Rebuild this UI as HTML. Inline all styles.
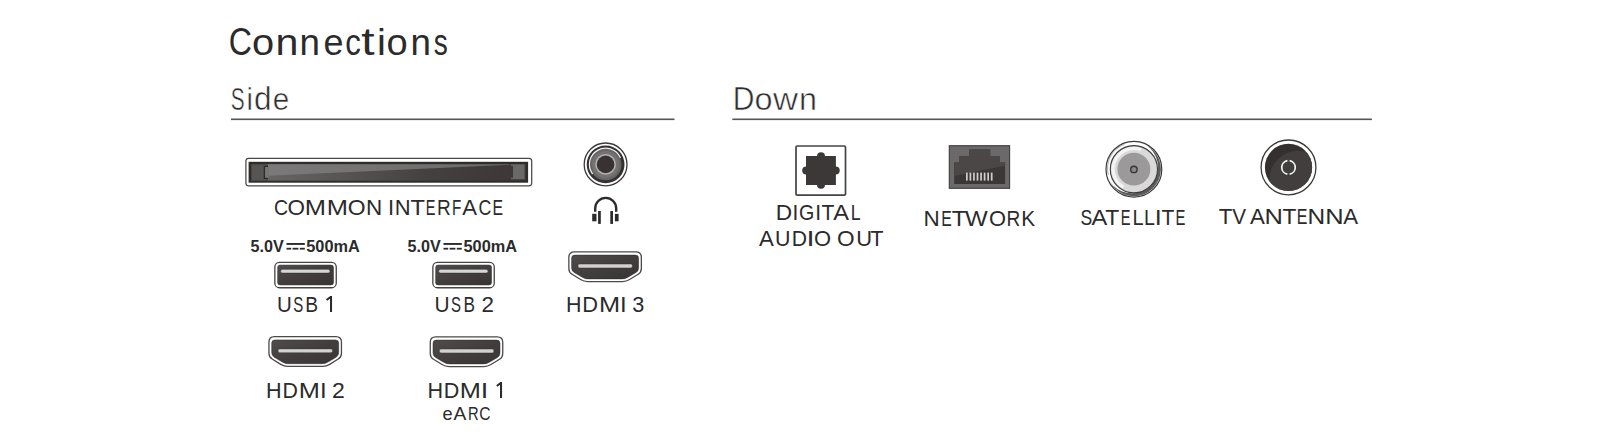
<!DOCTYPE html>
<html><head><meta charset="utf-8"><title>Connections</title>
<style>
html,body{margin:0;padding:0;background:#fff;}
body{width:1600px;height:442px;overflow:hidden;}
svg{display:block;}
text{font-family:"Liberation Sans",sans-serif;}
</style></head><body>
<svg width="1600" height="442" viewBox="0 0 1600 442">
<rect width="1600" height="442" fill="#fff"/>
<defs>
<linearGradient id="ciDark" x1="0" y1="0" x2="1" y2="0">
 <stop offset="0" stop-color="#6a6868"/><stop offset="0.3" stop-color="#5a5656"/><stop offset="0.65" stop-color="#454040"/><stop offset="1" stop-color="#3c3636"/>
</linearGradient>
<linearGradient id="ciLight" x1="0" y1="0" x2="1" y2="0">
 <stop offset="0" stop-color="#7b7979"/><stop offset="1" stop-color="#6b6969"/>
</linearGradient>
<linearGradient id="usbG" x1="0" y1="0" x2="1" y2="1">
 <stop offset="0" stop-color="#514c4c"/><stop offset="0.5" stop-color="#433e3e"/><stop offset="1" stop-color="#3a3535"/>
</linearGradient>
<linearGradient id="rjG" x1="0" y1="0" x2="1" y2="1">
 <stop offset="0" stop-color="#4e4a4a"/><stop offset="0.55" stop-color="#433f3f"/><stop offset="0.56" stop-color="#3d3838"/><stop offset="1" stop-color="#3a3535"/>
</linearGradient>
<radialGradient id="tvG" cx="0.62" cy="0.62" r="0.5">
 <stop offset="0" stop-color="#4a4545"/><stop offset="0.7" stop-color="#474242"/><stop offset="1" stop-color="#3c3636"/>
</radialGradient>
</defs>
<rect x="330" y="296" width="2.05" height="16" fill="#2b2b2b"/>
<path d="M330.90 296.90 L326.50 300.00" stroke="#2b2b2b" stroke-width="2.0" fill="none"/>
<rect x="500" y="382" width="2.05" height="16" fill="#2b2b2b"/>
<path d="M500.90 382.90 L496.80 386.00" stroke="#2b2b2b" stroke-width="2.0" fill="none"/>
<rect x="231" y="118.5" width="443.5" height="1.6" fill="#555"/>
<rect x="732.3" y="118.5" width="639.6" height="1.6" fill="#555"/>
<rect x="286.5" y="243" width="18.3" height="1.9" fill="#2b2b2b"/>
<rect x="286.5" y="247.8" width="4.7" height="1.8" fill="#2b2b2b"/>
<rect x="292.6" y="247.8" width="5.800000000000001" height="1.8" fill="#2b2b2b"/>
<rect x="299.8" y="247.8" width="5.0" height="1.8" fill="#2b2b2b"/>
<rect x="443.5" y="243" width="18.3" height="1.9" fill="#2b2b2b"/>
<rect x="443.5" y="247.8" width="4.7" height="1.8" fill="#2b2b2b"/>
<rect x="449.6" y="247.8" width="5.800000000000001" height="1.8" fill="#2b2b2b"/>
<rect x="456.8" y="247.8" width="5.0" height="1.8" fill="#2b2b2b"/>
<rect x="245.9" y="158.3" width="285.8" height="27.6" rx="2.8" fill="#fff" stroke="#484848" stroke-width="1.25"/>
<rect x="248.6" y="161.8" width="279.5" height="20.9" fill="#302c2c"/>
<rect x="251" y="164.2" width="275" height="16.5" fill="url(#ciDark)"/>
<path d="M264 164.2 H511 V164.6 L268 175.8 V178.4 H264Z" fill="url(#ciLight)"/>
<rect x="251" y="164.2" width="17" height="16.5" fill="#4a4646"/>
<rect x="252" y="165.2" width="15" height="14.5" fill="#575454"/>
<path d="M268 166.4 H264.4 V178.4 H268" fill="#777575" stroke="#2f2b2b" stroke-width="1.3"/>
<rect x="267.6" y="167" width="1.2" height="11" fill="#777575"/>
<path d="M510.9 164.3 H524.6 V179.2 H510.9 V177.8 H513 V165.7 H510.9Z" fill="#6a6868"/>
<circle cx="605.6" cy="164.4" r="21.4" fill="#fff" stroke="#3a3a3a" stroke-width="1.3"/>
<circle cx="605.6" cy="164.4" r="18.9" fill="#353131"/>
<circle cx="605.6" cy="164.4" r="15.9" fill="#676565"/>
<circle cx="605.6" cy="164.4" r="13.5" fill="#747272"/>
<circle cx="605.6" cy="164.4" r="10.4" fill="#b2b0b0"/>
<circle cx="605.6" cy="164.4" r="8.8" fill="#383232"/>
<path d="M592.33 173.69 A16.2 16.2 0 1 1 620.28 157.55" fill="none" stroke="#f0f0f0" stroke-width="1.2" stroke-linecap="round"/>
<path d="M595.2 211.8 V208.4 A10.5 10.5 0 0 1 616.2 208.4 V211.8" fill="none" stroke="#2b2b2b" stroke-width="2.4"/>
<rect x="592.2" y="213.8" width="4.3" height="7.5" fill="#2b2b2b"/>
<rect x="598.1" y="211" width="2.7" height="12.9" fill="#2b2b2b"/>
<rect x="610.3" y="211" width="2.7" height="12.9" fill="#2b2b2b"/>
<rect x="614.9" y="213.9" width="3.7" height="7.4" fill="#2b2b2b"/>
<rect x="274.84999999999997" y="262.35" width="61.4" height="25.4" rx="4.6" fill="#fff" stroke="#444" stroke-width="1.3"/>
<rect x="277.3" y="264.8" width="56.5" height="20.5" rx="3" fill="url(#usbG)"/>
<rect x="280.59999999999997" y="269.3" width="49.4" height="3.8" rx="1.9" fill="#d6d4d4" stroke="#2e2a2a" stroke-width="0.5"/>
<rect x="432.84999999999997" y="262.35" width="61.4" height="25.4" rx="4.6" fill="#fff" stroke="#444" stroke-width="1.3"/>
<rect x="435.3" y="264.8" width="56.5" height="20.5" rx="3" fill="url(#usbG)"/>
<rect x="438.59999999999997" y="269.3" width="49.4" height="3.8" rx="1.9" fill="#d6d4d4" stroke="#2e2a2a" stroke-width="0.5"/>
<path d="M574.35 251.85 L635.85 251.85 Q641.35 251.85 641.35 257.35 L641.35 268.40 Q641.35 272.20 638.13 274.21 L629.57 279.54 Q626.35 281.55 622.55 281.55 L587.65 281.55 Q583.85 281.55 580.63 279.54 L572.07 274.21 Q568.85 272.20 568.85 268.40 L568.85 257.35 Q568.85 251.85 574.35 251.85 Z" fill="#fff" stroke="#4a4a4a" stroke-width="1.3"/>
<path d="M574.80 255.10 L635.40 255.10 Q638.60 255.10 638.60 258.30 L638.60 268.00 Q638.60 271.00 636.01 272.51 L627.59 277.39 Q625.00 278.90 622.00 278.90 L588.20 278.90 Q585.20 278.90 582.61 277.39 L574.19 272.51 Q571.60 271.00 571.60 268.00 L571.60 258.30 Q571.60 255.10 574.80 255.10 Z" fill="url(#usbG)" stroke="#2e2a2a" stroke-width="0.5"/>
<rect x="578.1" y="264.09999999999997" width="54.199999999999996" height="3.8" rx="1.4" fill="#d2d0d0" stroke="#2e2a2a" stroke-width="0.4"/>
<path d="M274.45 336.65 L335.95 336.65 Q341.45 336.65 341.45 342.15 L341.45 353.20 Q341.45 357.00 338.23 359.01 L329.67 364.34 Q326.45 366.35 322.65 366.35 L287.75 366.35 Q283.95 366.35 280.73 364.34 L272.17 359.01 Q268.95 357.00 268.95 353.20 L268.95 342.15 Q268.95 336.65 274.45 336.65 Z" fill="#fff" stroke="#4a4a4a" stroke-width="1.3"/>
<path d="M274.90 339.90 L335.50 339.90 Q338.70 339.90 338.70 343.10 L338.70 352.80 Q338.70 355.80 336.11 357.31 L327.69 362.19 Q325.10 363.70 322.10 363.70 L288.30 363.70 Q285.30 363.70 282.71 362.19 L274.29 357.31 Q271.70 355.80 271.70 352.80 L271.70 343.10 Q271.70 339.90 274.90 339.90 Z" fill="url(#usbG)" stroke="#2e2a2a" stroke-width="0.5"/>
<rect x="278.2" y="348.9" width="54.199999999999996" height="3.8" rx="1.4" fill="#d2d0d0" stroke="#2e2a2a" stroke-width="0.4"/>
<path d="M435.75 336.85 L497.25 336.85 Q502.75 336.85 502.75 342.35 L502.75 353.40 Q502.75 357.20 499.53 359.21 L490.97 364.54 Q487.75 366.55 483.95 366.55 L449.05 366.55 Q445.25 366.55 442.03 364.54 L433.47 359.21 Q430.25 357.20 430.25 353.40 L430.25 342.35 Q430.25 336.85 435.75 336.85 Z" fill="#fff" stroke="#4a4a4a" stroke-width="1.3"/>
<path d="M436.20 340.10 L496.80 340.10 Q500.00 340.10 500.00 343.30 L500.00 353.00 Q500.00 356.00 497.41 357.51 L488.99 362.39 Q486.40 363.90 483.40 363.90 L449.60 363.90 Q446.60 363.90 444.01 362.39 L435.59 357.51 Q433.00 356.00 433.00 353.00 L433.00 343.30 Q433.00 340.10 436.20 340.10 Z" fill="url(#usbG)" stroke="#2e2a2a" stroke-width="0.5"/>
<rect x="439.5" y="349.09999999999997" width="54.199999999999996" height="3.8" rx="1.4" fill="#d2d0d0" stroke="#2e2a2a" stroke-width="0.4"/>
<rect x="796" y="146" width="49.5" height="49.1" rx="1.2" fill="#fff" stroke="#444" stroke-width="1.7"/>
<rect x="806" y="156" width="29.9" height="29" fill="#3d3838"/>
<circle cx="821" cy="156.2" r="4" fill="#3d3838"/>
<circle cx="806.2" cy="170.5" r="4" fill="#3d3838"/>
<circle cx="835.7" cy="170.5" r="4" fill="#3d3838"/>
<circle cx="821" cy="184.8" r="4" fill="#3d3838"/>
<rect x="949.3" y="145.7" width="60.3" height="42.6" fill="#6b6969" stroke="#3f3c3c" stroke-width="1.1"/>
<clipPath id="rjClip"><path d="M969.2 149.5 H990.2 V156.3 H999.7 V162.4 H1005.1 V184.1 H954.2 V162.4 H959 V156.3 H969.2Z"/></clipPath>
<path d="M969.2 149.5 H990.2 V156.3 H999.7 V162.4 H1005.1 V184.1 H954.2 V162.4 H959 V156.3 H969.2Z" fill="#3c3737"/>
<path d="M950 148 H1008 V165.2 L950 176.8Z" fill="#4c4747" clip-path="url(#rjClip)"/>
<rect x="966.00" y="172.6" width="1.7" height="8" fill="#d0cdcd"/>
<rect x="969.55" y="172.6" width="1.7" height="8" fill="#d0cdcd"/>
<rect x="973.10" y="172.6" width="1.7" height="8" fill="#d0cdcd"/>
<rect x="976.65" y="172.6" width="1.7" height="8" fill="#d0cdcd"/>
<rect x="980.20" y="172.6" width="1.7" height="8" fill="#d0cdcd"/>
<rect x="983.75" y="172.6" width="1.7" height="8" fill="#d0cdcd"/>
<rect x="987.30" y="172.6" width="1.7" height="8" fill="#d0cdcd"/>
<rect x="990.85" y="172.6" width="1.7" height="8" fill="#d0cdcd"/>
<circle cx="1133.9" cy="169.2" r="27.0" fill="#5c5a5a"/>
<circle cx="1131.6000000000001" cy="166.89999999999998" r="26.3" fill="#fff"/>
<circle cx="1133.9" cy="169.2" r="27.9" fill="none" stroke="#3a3a3a" stroke-width="1.2"/>
<path d="M1108.37 175.03 A25.6 25.6 0 0 1 1124.34 144.34" fill="none" stroke="#888" stroke-width="0.7"/>
<circle cx="1133.9" cy="169.2" r="23.6" fill="#d9d9d9" stroke="#3a3a3a" stroke-width="1.1"/>
<path d="M1123.50 187.21 A20.8 20.8 0 0 1 1141.01 149.65" fill="none" stroke="#f4f4f4" stroke-width="3.2"/>
<circle cx="1133.9" cy="169.2" r="16.4" fill="#9b9999"/>
<circle cx="1133.9" cy="169.39999999999998" r="3.2" fill="#8a8888" stroke="#3a3636" stroke-width="1.4"/>
<clipPath id="tvClip"><circle cx="1288.5" cy="167.4" r="23.6"/></clipPath>
<circle cx="1288.5" cy="167.4" r="27.4" fill="#fff" stroke="#3a3a3a" stroke-width="1.3"/>
<circle cx="1288.5" cy="167.4" r="23.6" fill="#353030"/>
<circle cx="1298.2" cy="179.5" r="28.8" fill="#433e3e" clip-path="url(#tvClip)"/>
<path d="M1287.4 160.70000000000002 A6.8 6.8 0 0 0 1287.4 174.1" fill="none" stroke="#f4f4f4" stroke-width="1.7"/>
<path d="M1289.6 160.70000000000002 A6.8 6.8 0 0 1 1289.6 174.1" fill="none" stroke="#f4f4f4" stroke-width="1.7"/>
<text transform="translate(228.79 55.40) scale(0.8178 1)" x="0" y="0" font-size="39.29" font-weight="normal" fill="#2b2b2b">C</text>
<text transform="translate(252.11 55.40) scale(1.0533 1)" x="0" y="0" font-size="37.78" font-weight="normal" fill="#2b2b2b">o</text>
<text transform="translate(275.62 55.40) scale(1.1004 1)" x="0" y="0" font-size="37.41" font-weight="normal" fill="#2b2b2b">n</text>
<text transform="translate(299.41 55.40) scale(0.9823 1)" x="0" y="0" font-size="37.41" font-weight="normal" fill="#2b2b2b">n</text>
<text transform="translate(323.46 55.40) scale(0.9529 1)" x="0" y="0" font-size="37.78" font-weight="normal" fill="#2b2b2b">e</text>
<text transform="translate(345.35 55.40) scale(0.8276 1)" x="0" y="0" font-size="37.78" font-weight="normal" fill="#2b2b2b">c</text>
<text transform="translate(361.28 55.40) scale(1.2601 1)" x="0" y="0" font-size="38.15" font-weight="normal" fill="#2b2b2b">t</text>
<text transform="translate(376.90 55.40) scale(1.0741 1)" x="0" y="0" font-size="37.24" font-weight="normal" fill="#2b2b2b">i</text>
<text transform="translate(386.58 55.40) scale(1.0087 1)" x="0" y="0" font-size="37.78" font-weight="normal" fill="#2b2b2b">o</text>
<text transform="translate(410.61 55.40) scale(0.9823 1)" x="0" y="0" font-size="37.41" font-weight="normal" fill="#2b2b2b">n</text>
<text transform="translate(433.86 55.40) scale(0.7424 1)" x="0" y="0" font-size="37.78" font-weight="normal" fill="#2b2b2b">s</text>
<text transform="translate(230.81 109.65) scale(0.6476 1)" x="0" y="0" font-size="32.21" font-weight="normal" fill="#2e2e2e" stroke="#fff" stroke-width="0.5">S</text>
<text transform="translate(246.57 109.65) scale(0.9087 1)" x="0" y="0" font-size="31.79" font-weight="normal" fill="#2e2e2e" stroke="#fff" stroke-width="0.5">i</text>
<text transform="translate(253.88 109.65) scale(0.9785 1)" x="0" y="0" font-size="32.34" font-weight="normal" fill="#2e2e2e" stroke="#fff" stroke-width="0.5">d</text>
<text transform="translate(272.66 109.65) scale(0.9570 1)" x="0" y="0" font-size="31.02" font-weight="normal" fill="#2e2e2e" stroke="#fff" stroke-width="0.5">e</text>
<text transform="translate(732.74 109.85) scale(0.9246 1)" x="0" y="0" font-size="32.54" font-weight="normal" fill="#2e2e2e" stroke="#fff" stroke-width="0.5">D</text>
<text transform="translate(754.55 109.85) scale(1.0515 1)" x="0" y="0" font-size="30.83" font-weight="normal" fill="#2e2e2e" stroke="#fff" stroke-width="0.5">o</text>
<text transform="translate(772.95 109.85) scale(1.1223 1)" x="0" y="0" font-size="30.85" font-weight="normal" fill="#2e2e2e" stroke="#fff" stroke-width="0.5">w</text>
<text transform="translate(799.05 109.85) scale(1.0421 1)" x="0" y="0" font-size="31.02" font-weight="normal" fill="#2e2e2e" stroke="#fff" stroke-width="0.5">n</text>
<text transform="translate(273.92 215.4) scale(0.8796 1)" x="0" y="0" font-size="22.20" font-weight="normal" fill="#2b2b2b">C</text>
<text transform="translate(287.39 215.4) scale(1.0127 1)" x="0" y="0" font-size="22.20" font-weight="normal" fill="#2b2b2b">O</text>
<text transform="translate(304.76 215.4) scale(1.1478 1)" x="0" y="0" font-size="22.20" font-weight="normal" fill="#2b2b2b">M</text>
<text transform="translate(326.86 215.4) scale(1.1478 1)" x="0" y="0" font-size="22.20" font-weight="normal" fill="#2b2b2b">M</text>
<text transform="translate(347.77 215.4) scale(1.0324 1)" x="0" y="0" font-size="22.20" font-weight="normal" fill="#2b2b2b">O</text>
<text transform="translate(366.10 215.4) scale(1.0125 1)" x="0" y="0" font-size="22.20" font-weight="normal" fill="#2b2b2b">N</text>
<text transform="translate(387.92 215.4) scale(0.9910 1)" x="0" y="0" font-size="22.20" font-weight="normal" fill="#2b2b2b">I</text>
<text transform="translate(394.84 215.4) scale(0.9886 1)" x="0" y="0" font-size="22.20" font-weight="normal" fill="#2b2b2b">N</text>
<text transform="translate(410.43 215.4) scale(1.0669 1)" x="0" y="0" font-size="22.20" font-weight="normal" fill="#2b2b2b">T</text>
<text transform="translate(425.84 215.4) scale(0.6529 1)" x="0" y="0" font-size="22.20" font-weight="normal" fill="#2b2b2b">E</text>
<text transform="translate(437.08 215.4) scale(0.8555 1)" x="0" y="0" font-size="22.20" font-weight="normal" fill="#2b2b2b">R</text>
<text transform="translate(452.09 215.4) scale(0.6825 1)" x="0" y="0" font-size="22.20" font-weight="normal" fill="#2b2b2b">F</text>
<text transform="translate(462.19 215.4) scale(0.9965 1)" x="0" y="0" font-size="22.20" font-weight="normal" fill="#2b2b2b">A</text>
<text transform="translate(478.61 215.4) scale(0.8016 1)" x="0" y="0" font-size="22.20" font-weight="normal" fill="#2b2b2b">C</text>
<text transform="translate(492.54 215.4) scale(0.7108 1)" x="0" y="0" font-size="22.20" font-weight="normal" fill="#2b2b2b">E</text>
<text transform="translate(276.96 311.6) scale(0.9246 1)" x="0" y="0" font-size="22.20" font-weight="normal" fill="#2b2b2b">U</text>
<text transform="translate(293.32 311.6) scale(0.6757 1)" x="0" y="0" font-size="22.20" font-weight="normal" fill="#2b2b2b">S</text>
<text transform="translate(305.26 311.6) scale(0.8672 1)" x="0" y="0" font-size="22.20" font-weight="normal" fill="#2b2b2b">B</text>
<text transform="translate(434.43 311.6) scale(0.9404 1)" x="0" y="0" font-size="22.20" font-weight="normal" fill="#2b2b2b">U</text>
<text transform="translate(451.02 311.6) scale(0.6757 1)" x="0" y="0" font-size="22.20" font-weight="normal" fill="#2b2b2b">S</text>
<text transform="translate(463.42 311.6) scale(0.7746 1)" x="0" y="0" font-size="22.20" font-weight="normal" fill="#2b2b2b">B</text>
<text transform="translate(481.58 311.6) scale(1.0086 1)" x="0" y="0" font-size="22.20" font-weight="normal" fill="#2b2b2b">2</text>
<text transform="translate(566.09 311.8) scale(0.9476 1)" x="0" y="0" font-size="22.60" font-weight="normal" fill="#2b2b2b">H</text>
<text transform="translate(582.25 311.8) scale(0.9668 1)" x="0" y="0" font-size="22.60" font-weight="normal" fill="#2b2b2b">D</text>
<text transform="translate(598.97 311.8) scale(1.1209 1)" x="0" y="0" font-size="22.60" font-weight="normal" fill="#2b2b2b">M</text>
<text transform="translate(620.04 311.8) scale(1.0619 1)" x="0" y="0" font-size="22.60" font-weight="normal" fill="#2b2b2b">I</text>
<text transform="translate(632.23 311.8) scale(0.9595 1)" x="0" y="0" font-size="22.60" font-weight="normal" fill="#2b2b2b">3</text>
<text transform="translate(266.07 397.6) scale(0.9683 1)" x="0" y="0" font-size="22.30" font-weight="normal" fill="#2b2b2b">H</text>
<text transform="translate(282.39 397.6) scale(0.9572 1)" x="0" y="0" font-size="22.30" font-weight="normal" fill="#2b2b2b">D</text>
<text transform="translate(298.87 397.6) scale(1.1360 1)" x="0" y="0" font-size="22.30" font-weight="normal" fill="#2b2b2b">M</text>
<text transform="translate(319.94 397.6) scale(1.0762 1)" x="0" y="0" font-size="22.30" font-weight="normal" fill="#2b2b2b">I</text>
<text transform="translate(332.05 397.6) scale(1.0333 1)" x="0" y="0" font-size="22.30" font-weight="normal" fill="#2b2b2b">2</text>
<text transform="translate(427.47 397.6) scale(0.9683 1)" x="0" y="0" font-size="22.30" font-weight="normal" fill="#2b2b2b">H</text>
<text transform="translate(443.68 397.6) scale(0.9647 1)" x="0" y="0" font-size="22.30" font-weight="normal" fill="#2b2b2b">D</text>
<text transform="translate(459.67 397.6) scale(1.1360 1)" x="0" y="0" font-size="22.30" font-weight="normal" fill="#2b2b2b">M</text>
<text transform="translate(480.77 397.6) scale(1.2108 1)" x="0" y="0" font-size="22.30" font-weight="normal" fill="#2b2b2b">I</text>
<text transform="translate(442.48 419.6) scale(1.0291 1)" x="0" y="0" font-size="17.59" font-weight="normal" fill="#2b2b2b">e</text>
<text transform="translate(453.50 419.6) scale(1.0538 1)" x="0" y="0" font-size="18.26" font-weight="normal" fill="#2b2b2b">A</text>
<text transform="translate(468.02 419.6) scale(0.8099 1)" x="0" y="0" font-size="18.26" font-weight="normal" fill="#2b2b2b">R</text>
<text transform="translate(479.32 419.6) scale(0.8526 1)" x="0" y="0" font-size="18.29" font-weight="normal" fill="#2b2b2b">C</text>
<text transform="translate(775.78 219.7) scale(1.0039 1)" x="0" y="0" font-size="22.60" font-weight="normal" fill="#2b2b2b">D</text>
<text transform="translate(792.41 219.7) scale(0.9292 1)" x="0" y="0" font-size="22.60" font-weight="normal" fill="#2b2b2b">I</text>
<text transform="translate(798.92 219.7) scale(0.8714 1)" x="0" y="0" font-size="22.60" font-weight="normal" fill="#2b2b2b">G</text>
<text transform="translate(815.31 219.7) scale(0.9292 1)" x="0" y="0" font-size="22.60" font-weight="normal" fill="#2b2b2b">I</text>
<text transform="translate(821.58 219.7) scale(0.9315 1)" x="0" y="0" font-size="22.60" font-weight="normal" fill="#2b2b2b">T</text>
<text transform="translate(833.28 219.7) scale(1.0459 1)" x="0" y="0" font-size="22.60" font-weight="normal" fill="#2b2b2b">A</text>
<text transform="translate(850.78 219.7) scale(0.7855 1)" x="0" y="0" font-size="22.60" font-weight="normal" fill="#2b2b2b">L</text>
<text transform="translate(759.09 245.9) scale(0.9988 1)" x="0" y="0" font-size="22.30" font-weight="normal" fill="#2b2b2b">A</text>
<text transform="translate(775.09 245.9) scale(0.9598 1)" x="0" y="0" font-size="22.30" font-weight="normal" fill="#2b2b2b">U</text>
<text transform="translate(791.71 245.9) scale(0.9496 1)" x="0" y="0" font-size="22.30" font-weight="normal" fill="#2b2b2b">D</text>
<text transform="translate(806.59 245.9) scale(1.3004 1)" x="0" y="0" font-size="22.30" font-weight="normal" fill="#2b2b2b">I</text>
<text transform="translate(813.91 245.9) scale(0.9820 1)" x="0" y="0" font-size="22.30" font-weight="normal" fill="#2b2b2b">O</text>
<text transform="translate(836.98 245.9) scale(1.0147 1)" x="0" y="0" font-size="22.30" font-weight="normal" fill="#2b2b2b">O</text>
<text transform="translate(856.36 245.9) scale(0.9834 1)" x="0" y="0" font-size="22.30" font-weight="normal" fill="#2b2b2b">U</text>
<text transform="translate(870.58 245.9) scale(0.9519 1)" x="0" y="0" font-size="22.30" font-weight="normal" fill="#2b2b2b">T</text>
<text transform="translate(923.50 226.25) scale(0.9859 1)" x="0" y="0" font-size="22.80" font-weight="normal" fill="#2b2b2b">N</text>
<text transform="translate(941.24 226.25) scale(0.6921 1)" x="0" y="0" font-size="22.80" font-weight="normal" fill="#2b2b2b">E</text>
<text transform="translate(951.83 226.25) scale(1.0388 1)" x="0" y="0" font-size="22.80" font-weight="normal" fill="#2b2b2b">T</text>
<text transform="translate(964.88 226.25) scale(1.0554 1)" x="0" y="0" font-size="22.80" font-weight="normal" fill="#2b2b2b">W</text>
<text transform="translate(989.11 226.25) scale(0.9604 1)" x="0" y="0" font-size="22.80" font-weight="normal" fill="#2b2b2b">O</text>
<text transform="translate(1006.58 226.25) scale(0.8330 1)" x="0" y="0" font-size="22.80" font-weight="normal" fill="#2b2b2b">R</text>
<text transform="translate(1021.13 226.25) scale(0.9153 1)" x="0" y="0" font-size="22.80" font-weight="normal" fill="#2b2b2b">K</text>
<text transform="translate(1080.61 225.4) scale(0.7886 1)" x="0" y="0" font-size="22.30" font-weight="normal" fill="#2b2b2b">S</text>
<text transform="translate(1091.48 225.4) scale(1.0599 1)" x="0" y="0" font-size="22.30" font-weight="normal" fill="#2b2b2b">A</text>
<text transform="translate(1105.24 225.4) scale(1.0306 1)" x="0" y="0" font-size="22.30" font-weight="normal" fill="#2b2b2b">T</text>
<text transform="translate(1120.83 225.4) scale(0.6582 1)" x="0" y="0" font-size="22.30" font-weight="normal" fill="#2b2b2b">E</text>
<text transform="translate(1132.50 225.4) scale(0.8969 1)" x="0" y="0" font-size="22.30" font-weight="normal" fill="#2b2b2b">L</text>
<text transform="translate(1143.94 225.4) scale(0.8767 1)" x="0" y="0" font-size="22.30" font-weight="normal" fill="#2b2b2b">L</text>
<text transform="translate(1154.85 225.4) scale(1.1211 1)" x="0" y="0" font-size="22.30" font-weight="normal" fill="#2b2b2b">I</text>
<text transform="translate(1161.58 225.4) scale(0.9441 1)" x="0" y="0" font-size="22.30" font-weight="normal" fill="#2b2b2b">T</text>
<text transform="translate(1175.51 225.4) scale(0.6665 1)" x="0" y="0" font-size="22.30" font-weight="normal" fill="#2b2b2b">E</text>
<text transform="translate(1218.65 223.7) scale(0.9903 1)" x="0" y="0" font-size="22.50" font-weight="normal" fill="#2b2b2b">T</text>
<text transform="translate(1232.30 223.7) scale(0.9228 1)" x="0" y="0" font-size="22.50" font-weight="normal" fill="#2b2b2b">V</text>
<text transform="translate(1249.89 223.7) scale(0.9899 1)" x="0" y="0" font-size="22.50" font-weight="normal" fill="#2b2b2b">A</text>
<text transform="translate(1264.56 223.7) scale(1.1327 1)" x="0" y="0" font-size="22.50" font-weight="normal" fill="#2b2b2b">N</text>
<text transform="translate(1282.44 223.7) scale(1.0136 1)" x="0" y="0" font-size="22.50" font-weight="normal" fill="#2b2b2b">T</text>
<text transform="translate(1296.72 223.7) scale(0.7095 1)" x="0" y="0" font-size="22.50" font-weight="normal" fill="#2b2b2b">E</text>
<text transform="translate(1307.45 223.7) scale(1.0855 1)" x="0" y="0" font-size="22.50" font-weight="normal" fill="#2b2b2b">N</text>
<text transform="translate(1325.26 223.7) scale(1.1327 1)" x="0" y="0" font-size="22.50" font-weight="normal" fill="#2b2b2b">N</text>
<text transform="translate(1343.19 223.7) scale(0.9899 1)" x="0" y="0" font-size="22.50" font-weight="normal" fill="#2b2b2b">A</text>
<text x="250.5" y="252.3" font-size="15.7" font-weight="bold" fill="#2b2b2b" textLength="33.2" lengthAdjust="spacingAndGlyphs">5.0V</text>
<text x="306.3" y="252.3" font-size="15.7" font-weight="bold" fill="#2b2b2b" textLength="53.5" lengthAdjust="spacingAndGlyphs">500mA</text>
<text x="407.6" y="252.3" font-size="15.7" font-weight="bold" fill="#2b2b2b" textLength="33.2" lengthAdjust="spacingAndGlyphs">5.0V</text>
<text x="463.5" y="252.3" font-size="15.7" font-weight="bold" fill="#2b2b2b" textLength="53.5" lengthAdjust="spacingAndGlyphs">500mA</text>
</svg>
</body></html>
